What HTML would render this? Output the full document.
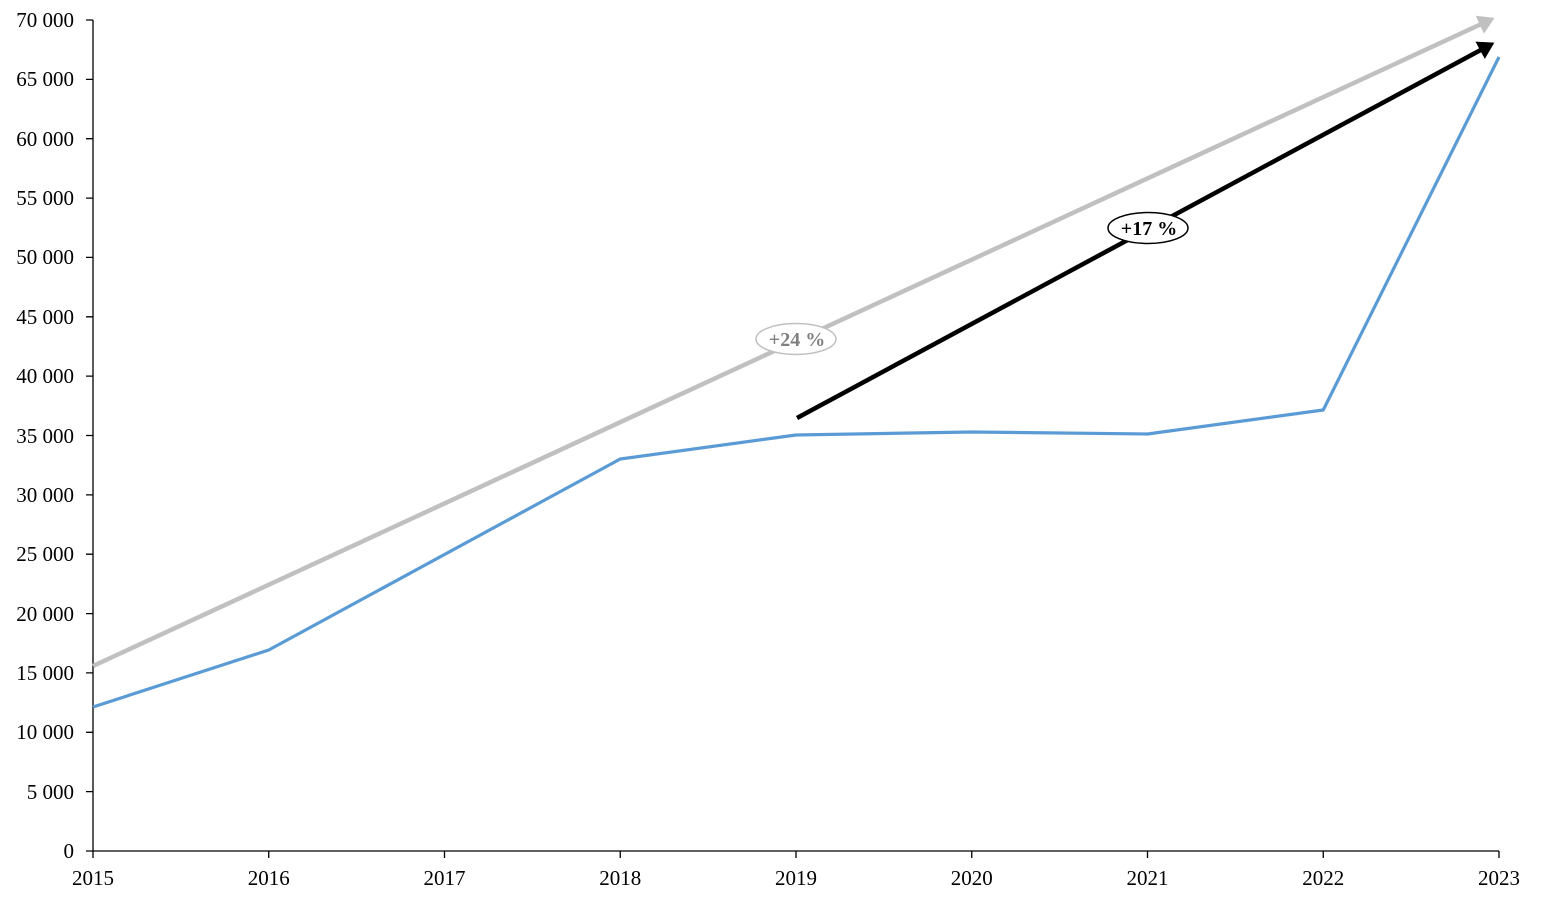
<!DOCTYPE html>
<html><head><meta charset="utf-8"><style>html,body{margin:0;padding:0;background:#fff}svg{display:block}</style></head>
<body>
<svg width="1542" height="898" viewBox="0 0 1542 898" xmlns="http://www.w3.org/2000/svg" font-family="'Liberation Serif', serif" font-size="21">
<defs>
<marker id="ag" markerWidth="5" markerHeight="5" refX="2.5" refY="2.5" orient="auto" markerUnits="strokeWidth"><path d="M0,0.3 L3.6,2.5 L0,4.7 Z" fill="#c0c0c0"/></marker>
<marker id="ab" markerWidth="5" markerHeight="5" refX="2.5" refY="2.5" orient="auto" markerUnits="strokeWidth"><path d="M0,0.3 L3.6,2.5 L0,4.7 Z" fill="#000"/></marker>
</defs>
<g stroke="#000" stroke-width="1.3" fill="none">
<line x1="93" y1="20" x2="93" y2="851"/>
<line x1="93" y1="851" x2="1499" y2="851"/>
<path d="M86,20H93M86,79.4H93M86,138.7H93M86,198.1H93M86,257.4H93M86,316.8H93M86,376.1H93M86,435.5H93M86,494.9H93M86,554.2H93M86,613.6H93M86,672.9H93M86,732.3H93M86,791.6H93M86,851H93"/>
<path d="M93,851V858M268.75,851V858M444.5,851V858M620.25,851V858M796,851V858M971.75,851V858M1147.5,851V858M1323.25,851V858M1499,851V858"/>
</g>
<g text-anchor="end" fill="#000">
<text x="74" y="27">70 000</text><text x="74" y="86">65 000</text><text x="74" y="146">60 000</text><text x="74" y="205">55 000</text><text x="74" y="264">50 000</text><text x="74" y="324">45 000</text><text x="74" y="383">40 000</text><text x="74" y="443">35 000</text><text x="74" y="502">30 000</text><text x="74" y="561">25 000</text><text x="74" y="621">20 000</text><text x="74" y="680">15 000</text><text x="74" y="739">10 000</text><text x="74" y="799">5 000</text><text x="74" y="858">0</text>
</g>
<g text-anchor="middle" fill="#000">
<text x="93" y="885">2015</text><text x="268.75" y="885">2016</text><text x="444.5" y="885">2017</text><text x="620.25" y="885">2018</text><text x="796" y="885">2019</text><text x="971.75" y="885">2020</text><text x="1147.5" y="885">2021</text><text x="1323.25" y="885">2022</text><text x="1499" y="885">2023</text>
</g>
<line x1="93" y1="666" x2="1490" y2="20" stroke="#c0c0c0" stroke-width="4.5" marker-end="url(#ag)"/>
<line x1="797" y1="418" x2="1490" y2="45" stroke="#000" stroke-width="4.5" marker-end="url(#ab)"/>
<polyline points="93,707 268.75,650 620.25,459 796,435 971.75,432 1147.5,434 1323.25,410 1499,57" fill="none" stroke="#5b9bd5" stroke-width="3.2" stroke-linejoin="round"/>
<ellipse cx="796" cy="339" rx="40" ry="15.5" fill="#fff" stroke="#c0c0c0" stroke-width="1.5"/>
<text x="797" y="346" text-anchor="middle" font-weight="bold" fill="#7f7f7f" font-size="20">+24 %</text>
<ellipse cx="1148" cy="228" rx="40" ry="15.5" fill="#fff" stroke="#000" stroke-width="1.5"/>
<text x="1149" y="235" text-anchor="middle" font-weight="bold" fill="#000" font-size="20">+17 %</text>
</svg>
</body></html>
